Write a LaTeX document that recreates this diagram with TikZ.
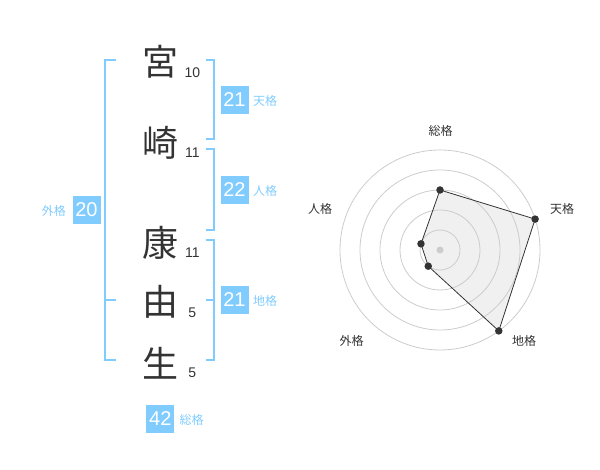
\documentclass[tikz,border=0pt]{standalone}
\usepackage{fontspec}
\setmainfont{Liberation Sans}
\newfontfamily\jp{Noto Sans CJK JP}
\definecolor{bl}{RGB}{128,204,255}
\definecolor{txt}{RGB}{51,51,51}
\definecolor{grid}{RGB}{204,204,204}
\definecolor{area}{RGB}{240,240,240}
\tikzset{
  kanji/.style={text=txt, inner sep=0, font=\jp\fontsize{36}{36}\selectfont},
  num/.style={text=txt, inner sep=0, font=\fontsize{14}{14}\selectfont},
  valbox/.style={fill=bl, text=white, minimum size=28pt, inner sep=0, font=\fontsize{20}{20}\selectfont},
  lab/.style={text=bl, inner sep=0, font=\jp\fontsize{12}{12}\selectfont},
  rlab/.style={text=txt, inner sep=0, font=\jp\fontsize{12}{12}\selectfont},
  brk/.style={draw=bl, line width=2pt},
  dot/.style={circle, fill=txt, inner sep=0, minimum size=7.5pt},
}
\begin{document}
\begin{tikzpicture}[x=1pt,y=-1pt]
\useasboundingbox (0,0) rectangle (600,470);
% kanji
\node[kanji] (k1) at (160,62) {宮};
\node[kanji] (k2) at (160,143) {崎};
\node[kanji] (k3) at (160,243) {康};
\node[kanji] (k4) at (160,302) {由};
\node[kanji] (k5) at (160,363) {生};
% stroke numbers
\node[num] (n1) at (192.3,72.7) {10};
\node[num] (n2) at (192.3,153) {11};
\node[num] (n3) at (192.3,252.7) {11};
\node[num] (n4) at (192.3,312.7) {5};
\node[num] (n5) at (192.3,372.7) {5};
% brackets
\draw[brk] (116,60) -- (105,60) -- (105,360) -- (116,360);
\draw[brk] (105,300) -- (116,300);
\draw[brk] (205.7,60) -- (214,60) -- (214,139.3) -- (205.7,139.3);
\draw[brk] (205.7,149.3) -- (214,149.3) -- (214,230) -- (205.7,230);
\draw[brk] (205.7,240) -- (214,240) -- (214,360) -- (205.7,360);
\draw[brk] (205.7,300) -- (214,300);
% values
\node[valbox] (ten) at (234.5,100) {21};
\node[lab, anchor=west] (tenl) at (253,101) {天格};
\node[valbox] (jin) at (234.5,190) {22};
\node[lab, anchor=west] (jinl) at (253,191) {人格};
\node[valbox] (chi) at (234.5,300) {21};
\node[lab, anchor=west] (chil) at (253,301) {地格};
\node[valbox] (gai) at (86.5,210) {20};
\node[lab, anchor=east] (gail) at (66,211) {外格};
\node[valbox] (sou) at (160.3,419) {42};
\node[lab, anchor=west] (soul) at (179.5,420) {総格};
% radar
\begin{scope}[shift={(440,250)}]
  \coordinate (pS) at (90:60pt);
  \coordinate (pT) at (18:100pt);
  \coordinate (pC) at (-54:100pt);
  \coordinate (pG) at (-126:20pt);
  \coordinate (pJ) at (162:20pt);
  \fill[area] (pS) -- (pT) -- (pC) -- (pG) -- (pJ) -- cycle;
  \foreach \r in {20,40,60,80,100} \draw[grid, line width=0.8pt] (0,0) circle[radius=\r pt];
  \node[circle, fill=grid, inner sep=0, minimum size=7pt] (c) at (0,0) {};
  \draw[txt, line width=0.8pt] (pS) -- (pT) -- (pC) -- (pG) -- (pJ) -- cycle;
  \foreach \p in {pS,pT,pC,pG,pJ} \node[dot] at (\p) {};
\end{scope}
\node[rlab] (rS) at (440.7,130.7) {総格};
\node[rlab] (rT) at (562,209) {天格};
\node[rlab] (rC) at (524,341) {地格};
\node[rlab] (rG) at (351.7,341) {外格};
\node[rlab] (rJ) at (320,209) {人格};
\end{tikzpicture}
\end{document}
